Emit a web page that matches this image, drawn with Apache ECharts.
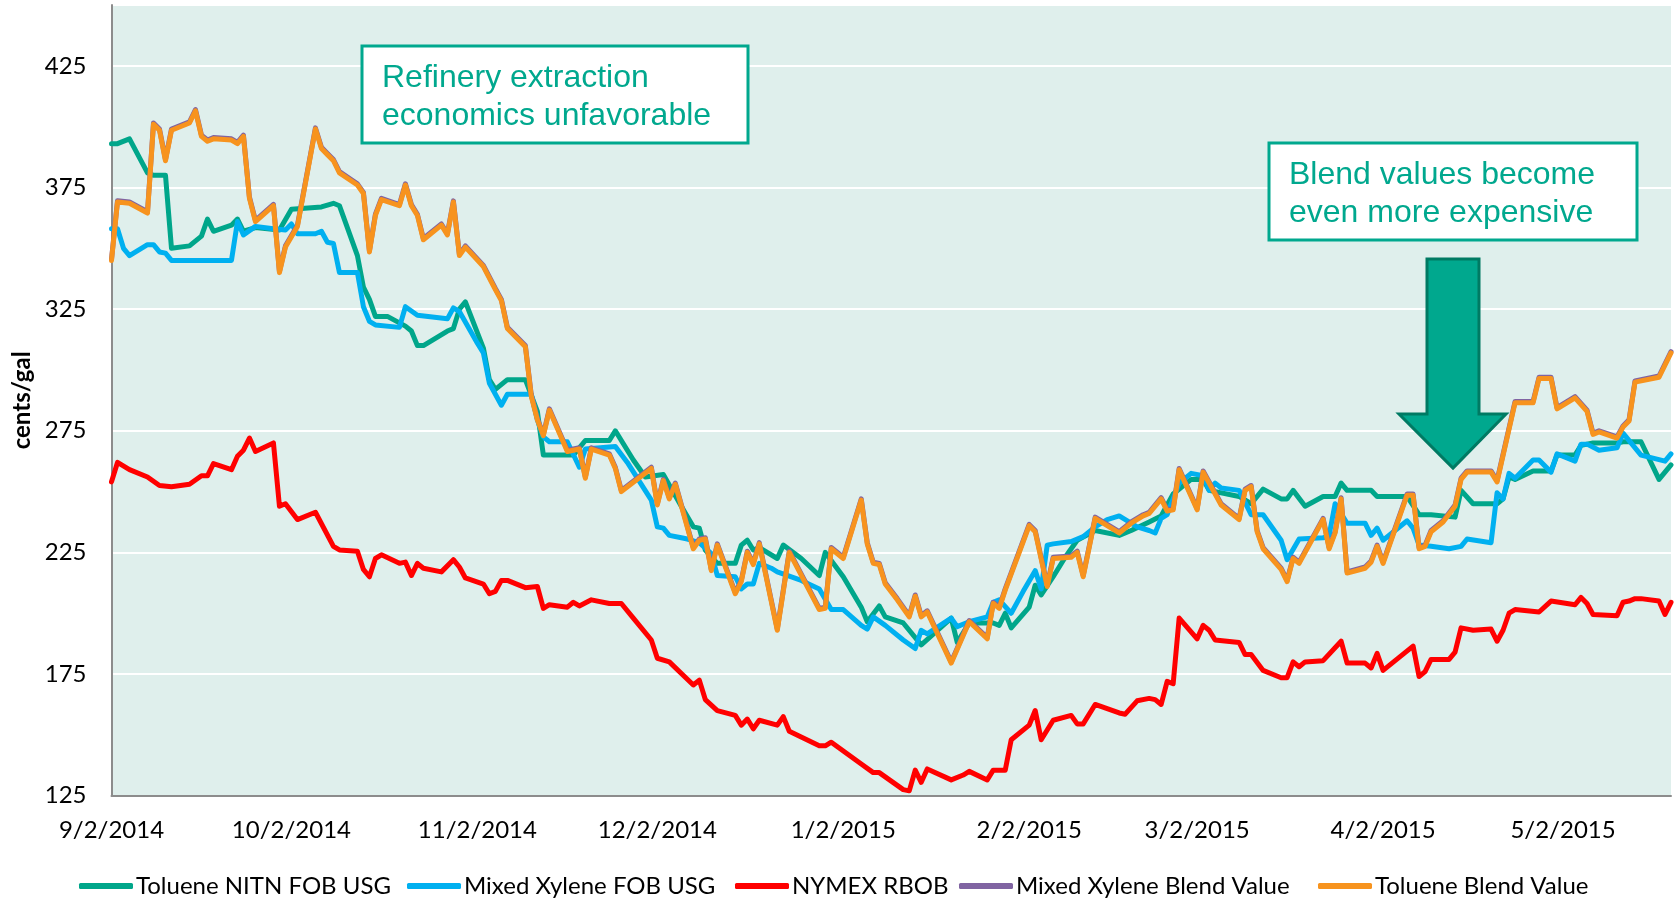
<!DOCTYPE html>
<html>
<head>
<meta charset="utf-8">
<script src="https://cdn.jsdelivr.net/npm/echarts@6/dist/echarts.min.js"></script>
<style>
html,body{margin:0;padding:0;background:#ffffff;}
#chart{width:1675px;height:900px;}
</style>
</head>
<body>
<div id="chart"></div>
<script>
// ---------------- DATA ----------------
// x values are days since START_DATE (9/2/2014); y values in cents/gal
const START_DATE = '2014-09-02';
const END_DATE = '2015-05-20';
const tickDates = ['2014-09-02','2014-10-02','2014-11-02','2014-12-02','2015-01-02','2015-02-02','2015-03-02','2015-04-02','2015-05-02'];
const tickLabels = ['9/2/2014','10/2/2014','11/2/2014','12/2/2014','1/2/2015','2/2/2015','3/2/2015','4/2/2015','5/2/2015'];
const yTicks = [125,175,225,275,325,375,425];
const seriesNames = ['Toluene NITN FOB USG','Mixed Xylene FOB USG','NYMEX RBOB','Mixed Xylene Blend Value','Toluene Blend Value'];

const tolueneNitn = [[0,393],[1,393],[3,395],[6,381],[7,380],[9,380],[10,350],[13,351],[15,355],[16,362],[17,357],[20,359.5],[21,362],[22,357],[24,358.5],[28,357.5],[30,366],[35,367],[37,368.5],[38,367.5],[41,347],[42,334],[43,329],[44,322],[46,322],[49,318],[50,316],[51,310],[52,310],[56,316],[57,317],[58,325],[59,328],[62,309],[63,296],[64,292],[66,296],[69,296],[71,283],[72,265],[77,265],[79,271],[83,271],[84,275],[87,263],[89,256],[92,257],[95,244],[97,235.5],[98,235],[99,226],[101,220.5],[104,220.5],[105,228],[106,230],[107,226],[108,227],[111,222.5],[112,228],[115,222.5],[118,215.5],[119,225],[122,215],[125,202.5],[126,196.5],[128,203],[129,198.5],[132,196],[135,187],[140,198],[141,188],[143,196],[147,196],[148,195],[149,200],[150,194],[153,202.5],[154,211.5],[155,207.5],[157,215],[159,223],[161,230],[164,234],[168,232],[170,234],[173,237.5],[175,240],[177,249],[180,255],[182,255],[183,250.5],[188,248],[190,245],[192,251],[195,247],[196,247],[197,250.5],[199,244],[202,248],[204,248],[205,253.5],[206,250.5],[210,250.5],[211,248],[216,248],[218,240.5],[220,240.5],[224,239.5],[225,250.5],[227,245],[231,245],[232,247],[233,256],[234,255],[237,258.5],[240,258.5],[241,265],[244,265],[245,269],[247,270],[251,270],[252,270.5],[255,270.5],[258,255],[260,261]];

const mixedXylene = [[0,358],[1,358],[2,350],[3,347],[6,351.5],[7,351.5],[8,348.5],[9,348],[10,345],[20,345],[21,361],[22,355.5],[24,359],[27,358],[29,357.5],[30,360],[31,356],[34,356],[35,357],[36,352.5],[37,352],[38,340],[41,340],[42,326],[43,320],[44,318.5],[48,317.5],[49,326],[51,322.5],[56,321],[57,325.5],[58,324],[61,311],[62,307],[63,294.5],[65,285.5],[66,290],[70,290],[71,279.5],[72,272.5],[73,270.5],[76,270.5],[78,260],[79,267.5],[84,268.5],[86,262],[90,246.5],[91,235.5],[92,235],[93,232],[95,231],[96,230.5],[98,229],[100,224.5],[101,215.5],[104,215],[105,210],[106,212],[107,212],[108,220.5],[110,218.5],[111,217],[115,213.5],[118,210],[120,201.5],[122,201.5],[125,195],[126,193.5],[127,198.5],[129,195],[132,189],[134,185.5],[135,193],[136,191.5],[140,198],[141,194.5],[143,196.5],[146,198.5],[147,204.5],[148,205.5],[150,200],[152,209],[154,217.5],[155,210],[156,228],[157,228.5],[160,229.5],[162,231.5],[164,235.5],[166,238.5],[168,240],[171,235.5],[173,234],[174,233],[175,239],[176,240.5],[178,253.5],[180,257.5],[182,256.5],[183,250.5],[184,253.5],[185,251.5],[188,250.5],[190,240.5],[192,240.5],[195,230],[196,222],[198,230.5],[202,231],[203,232],[204,245],[206,237],[209,237],[210,232],[211,235],[212,230],[216,238],[217,235],[218,228],[220,227.5],[223,226.5],[225,227.5],[226,230.5],[230,229],[231,249.5],[232,247],[233,257.5],[234,255.5],[237,263],[238,263],[240,258],[241,265.5],[244,262.5],[245,269.5],[246,269.5],[248,267],[251,268],[252,274],[255,265],[259,262.5],[260,265.5]];

const nymexRbob = [[0,254],[1,262],[3,259],[6,256],[8,252.5],[10,252],[13,253],[15,256.5],[16,256.5],[17,261.5],[20,259],[21,264.5],[22,267],[23,272],[24,266.5],[27,270],[28,244],[29,245],[31,238.5],[34,241.5],[37,227.5],[38,226],[41,225.5],[42,218],[43,215],[44,222.5],[45,224],[48,220.5],[49,221],[50,215.5],[51,220.5],[52,218.5],[55,217],[57,222],[58,219],[59,214.5],[62,212],[63,208],[64,209],[65,213.5],[66,213.5],[69,210.5],[71,211],[72,202],[73,203.5],[76,202.5],[77,204.5],[78,203],[80,205.5],[83,204],[85,204],[87,198],[90,189],[91,181.5],[93,180],[97,170.5],[98,172.5],[99,164.5],[101,160],[104,158],[105,154],[106,156.5],[107,152.5],[108,156],[111,154],[112,157.5],[113,151.5],[118,145.5],[119,145.5],[120,147],[125,138],[127,134.5],[128,134.5],[132,127.5],[133,127],[134,135.5],[135,130.5],[136,136],[140,131.5],[142,133.5],[143,135],[146,131.5],[147,135.5],[149,135.5],[150,148],[153,154],[154,160],[155,148],[157,156],[160,158],[161,154.5],[162,154.5],[164,162.5],[168,159],[169,158.5],[171,164],[173,165],[174,164.5],[175,162.5],[176,172],[177,171],[178,198],[181,189.5],[182,195],[183,193],[184,189],[188,188],[189,183],[190,183],[192,176.5],[195,173.5],[196,173.5],[197,180],[198,178],[199,180],[202,180.5],[205,188.5],[206,179.5],[209,179.5],[210,177.5],[211,183.5],[212,176.5],[217,186.5],[218,174],[219,176],[220,181],[223,181],[224,184],[225,194],[227,193],[230,193.5],[231,188.5],[232,193],[233,200],[234,201.5],[238,200.5],[240,205],[244,203.5],[245,206.5],[246,204],[247,199.5],[251,199],[252,204.5],[253,205],[254,206],[255,206],[258,205],[259,199.5],[260,204.5]];

const mixedXyleneBlend = [[0,345.5],[1,369.5],[3,369],[6,365],[7,401.5],[8,399],[9,386.5],[10,399],[13,402],[14,407],[15,396.5],[16,394.5],[17,395.5],[20,395],[21,393.5],[22,396.5],[23,371],[24,361.5],[27,368],[28,340.5],[29,351],[31,359.5],[34,399.5],[35,391.5],[36,389],[37,386.5],[38,381.5],[41,376.5],[42,373],[43,349],[44,364],[45,370.5],[48,368],[49,376.5],[50,368],[51,364],[52,354],[55,360],[56,356],[57,369.5],[58,347.5],[59,351],[62,343],[64,333.5],[65,329],[66,317.5],[69,310],[70,289.5],[71,280],[72,273.5],[73,284],[76,267],[78,268],[79,256],[80,268],[83,265.5],[84,260],[85,250.5],[90,260],[91,245],[92,255],[93,247.5],[94,253.5],[97,227],[98,230.5],[99,231],[100,218],[101,228.5],[104,208.5],[105,213.5],[106,225.5],[107,220.5],[108,229],[111,193.5],[113,225.5],[118,202],[119,202.5],[120,227],[122,223],[125,247],[126,229],[127,221],[128,220.5],[129,212.5],[131,206],[133,199],[134,207.5],[135,199],[136,201],[140,180],[143,197],[146,190],[147,204.5],[148,202.5],[149,210],[153,236.5],[154,234],[156,211.5],[157,223],[160,223.5],[161,225.5],[162,215.5],[164,239.5],[168,233.5],[170,237.5],[172,240.5],[173,241.5],[175,247.5],[176,242.5],[177,243],[178,259.5],[181,243],[182,258.5],[185,245],[188,239],[189,251],[190,252.5],[191,234],[192,227],[195,218.5],[196,213.5],[197,223],[198,221],[202,239],[203,227],[204,233.5],[205,247.5],[206,217],[209,219],[210,221.5],[211,228],[212,221],[216,249],[217,249],[218,227],[219,228],[220,234],[222,238],[224,244.5],[225,255.5],[226,258.5],[230,258.5],[231,254.5],[234,287],[237,287],[238,297],[240,297],[241,284.5],[244,289],[246,283.5],[247,274],[248,275],[251,272.5],[252,277],[253,279.5],[254,295.5],[258,297.5],[260,307.5]];

const tolueneBlend = [[0,345],[1,369],[3,368.5],[6,364.5],[7,401],[8,398.5],[9,386],[10,398.5],[13,401.5],[14,406.5],[15,396],[16,394],[17,395],[20,394.5],[21,393],[22,396],[23,370.5],[24,361],[27,367.5],[28,340],[29,350.5],[31,359],[34,399],[35,391],[36,388.5],[37,386],[38,381],[41,376],[42,372.5],[43,348.5],[44,363.5],[45,370],[48,367.5],[49,376],[50,367.5],[51,363.5],[52,353.5],[55,359.5],[56,355.5],[57,369],[58,347],[59,350.5],[62,342.5],[64,333],[65,328.5],[66,317],[69,309.5],[70,289],[71,279.5],[72,273],[73,283.5],[76,266.5],[78,267.5],[79,255.5],[80,267.5],[83,265],[84,259.5],[85,250],[90,259.5],[91,244.5],[92,254.5],[93,247],[94,253],[97,226.5],[98,230],[99,230.5],[100,217.5],[101,228],[104,208],[105,213],[106,225],[107,220],[108,228.5],[111,193],[113,225],[118,201.5],[119,202],[120,226.5],[122,222.5],[125,246.5],[126,228.5],[127,220.5],[128,220],[129,212],[131,205.5],[133,198.5],[134,207],[135,198.5],[136,200.5],[140,179.5],[143,196.5],[146,189.5],[147,204],[148,202],[149,209.5],[153,236],[154,233.5],[156,211],[157,222.5],[160,223],[161,225],[162,215],[164,239],[168,233],[170,237],[172,240],[173,241],[175,247],[176,242],[177,242.5],[178,259],[181,242.5],[182,258],[185,244.5],[188,238.5],[189,250.5],[190,252],[191,233.5],[192,226.5],[195,218],[196,213],[197,222.5],[198,220.5],[202,238.5],[203,226.5],[204,233],[205,247],[206,216.5],[209,218.5],[210,221],[211,227.5],[212,220.5],[216,248.5],[217,248.5],[218,226.5],[219,227.5],[220,233.5],[222,237.5],[224,244],[225,255],[226,258],[230,258],[231,254],[234,286.5],[237,286.5],[238,296.5],[240,296.5],[241,284],[244,288.5],[246,283],[247,273.5],[248,274.5],[251,272],[252,276.5],[253,279],[254,295],[258,297],[260,307]];

const annotation1 = 'Refinery extraction\neconomics unfavorable';
const annotation2 = 'Blend values become\neven more expensive';

// ---------------- STYLE / BUILD ----------------
const colors = ['#00A68A','#00B0F0','#FF0000','#8064A2','#F7931E'];
const seriesData = [tolueneNitn, mixedXylene, nymexRbob, mixedXyleneBlend, tolueneBlend];
const DAY = 86400000;
const t0 = Date.parse(START_DATE + 'T00:00:00Z');
const toDay = d => Math.round((Date.parse(d + 'T00:00:00Z') - t0) / DAY);
const tickDays = tickDates.map(toDay);
const endDay = toDay(END_DATE);
const labelByDay = {};
tickDays.forEach((d, i) => { labelByDay[d] = tickLabels[i]; });

const FONT = 'Lato';
const legendLefts = [79, 407, 735, 959, 1318];

const chart = echarts.init(document.getElementById('chart'), null, {renderer: 'canvas', width: 1675, height: 900});

const option = {
  animation: false,
  backgroundColor: '#ffffff',
  color: colors,
  grid: {
    left: 111.5, right: 4, top: 5, bottom: 104.3,
    show: true, backgroundColor: '#DFEFEC', borderWidth: 0,
    containLabel: false
  },
  xAxis: {
    type: 'value',
    min: 0, max: endDay,
    axisLine: {show: true, onZero: false, lineStyle: {color: '#8C8C8C', width: 2}},
    axisTick: {show: false},
    splitLine: {show: false},
    axisLabel: {
      customValues: tickDays,
      formatter: v => labelByDay[v] || '',
      color: '#000', fontFamily: FONT, fontSize: 24, margin: 23
    }
  },
  yAxis: {
    type: 'value',
    min: yTicks[0], max: 450, interval: 50,
    name: 'cents/gal', nameLocation: 'middle', nameGap: 76, nameRotate: 90,
    nameTextStyle: {color: '#000', fontFamily: FONT, fontWeight: 'bold', fontSize: 24},
    axisLine: {show: true, lineStyle: {color: '#8C8C8C', width: 2}},
    axisTick: {show: false},
    splitLine: {show: true, lineStyle: {color: '#FFFFFF', width: 2}},
    axisLabel: {
      showMaxLabel: false,
      formatter: v => (yTicks.indexOf(v) >= 0 ? String(v) : ''),
      color: '#000', fontFamily: FONT, fontSize: 24, margin: 25
    }
  },
  legend: seriesNames.map((n, i) => ({
    data: [n], left: legendLefts[i], top: 873, padding: 0,
    icon: 'roundRect', itemWidth: 54, itemHeight: 6,
    textStyle: {color: '#000', fontFamily: FONT, fontSize: 24, lineHeight: 26, padding: [0, 0, 0, -2]},
    selectedMode: false
  })),
  series: seriesNames.map((n, i) => ({
    name: n, type: 'line', data: seriesData[i],
    symbol: 'none', showSymbol: false, smooth: false,
    lineStyle: {color: colors[i], width: 5, join: 'round', cap: 'round'},
    itemStyle: {color: colors[i]},
    z: 2 + i
  })),
  graphic: [
    {type: 'rect', z: 100, shape: {x: 362, y: 46, width: 386, height: 97},
     style: {fill: '#ffffff', stroke: '#00A88E', lineWidth: 3}},
    {type: 'text', z: 101, x: 382, y: 59,
     style: {text: annotation1, fill: '#00A88E', fontFamily: 'Liberation Sans', fontSize: 32, lineHeight: 38, align: 'left', verticalAlign: 'top'}},
    {type: 'rect', z: 100, shape: {x: 1269, y: 143, width: 368, height: 97},
     style: {fill: '#ffffff', stroke: '#00A88E', lineWidth: 3}},
    {type: 'text', z: 101, x: 1289, y: 156.5,
     style: {text: annotation2, fill: '#00A88E', fontFamily: 'Liberation Sans', fontSize: 32, lineHeight: 38, align: 'left', verticalAlign: 'top'}},
    {type: 'polygon', z: 100,
     shape: {points: [[1427, 259], [1479, 259], [1479, 414], [1506, 414], [1453, 468], [1399, 414], [1427, 414]]},
     style: {fill: '#00A88E', stroke: '#007A63', lineWidth: 3}}
  ]
};
chart.setOption(option);
</script>
</body>
</html>
